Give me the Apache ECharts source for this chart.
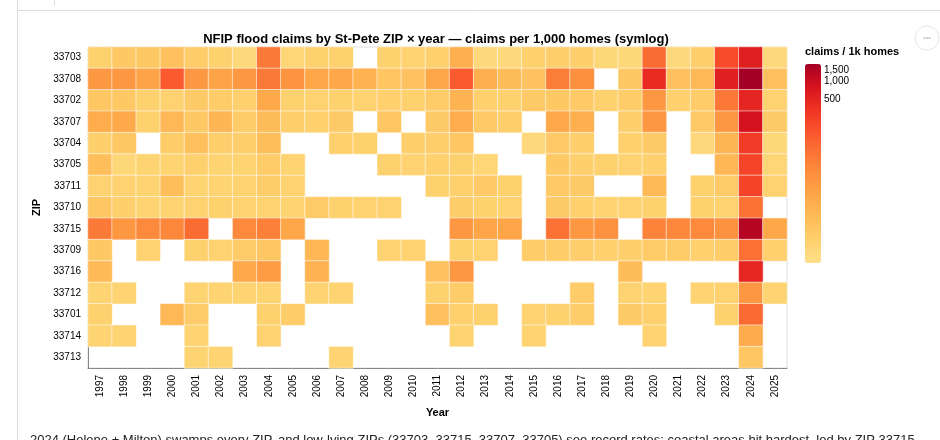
<!DOCTYPE html>
<html>
<head>
<meta charset="utf-8">
<script src="https://cdn.jsdelivr.net/npm/echarts@6/dist/echarts.min.js"></script>
<style>
html, body { margin: 0; padding: 0; background: #fff; }
#chart { width: 940px; height: 440px; }
</style>
</head>
<body>
<div id="chart"></div>
<script>
// 年份 / ZIP
const years = ['1997', '1998', '1999', '2000', '2001', '2002', '2003', '2004', '2005', '2006',
  '2007', '2008', '2009', '2010', '2011', '2012', '2013', '2014', '2015', '2016',
  '2017', '2018', '2019', '2020', '2021', '2022', '2023', '2024', '2025'];
const zips = ['33703', '33708', '33702', '33707', '33704', '33705', '33711', '33710',
  '33715', '33709', '33716', '33712', '33701', '33714', '33713'];

// claims per 1,000 homes, 1997 -> 2025 (null = no claims)
const z33703 = [1.3, 2.4, 2.4, 3.5, 1.8, 1.3, 0.5, 55, 0.8, 1.3, 1.3, null, 1.3, 1.2, 1.4, 8, 0.6, 0.5, 1.4, 1.6, 1.5, 0.7, 0.7, 80, 0.6, 1.5, 190, 600, 0.6];
const z33708 = [21, 22, 14, 128, 21, 14, 21, 55, 24, 12, 12, 7.5, 2.8, 3.2, 12, 128, 8, 4.4, 3.2, 50, 28, null, 2.4, 440, 3.6, 5.5, 590, 1980, 3.6];
const z33702 = [2.5, 2.4, 1.3, 1.2, 2.2, 1.8, 1.4, 11, 1.3, 1.2, 1.3, 1.2, 1.4, 1.3, 2.0, 7, 1.4, 1.3, 2.2, 2.4, 2.3, 1.3, 1.8, 22, 1.4, 1.9, 58, 510, 1.2];
const z33707 = [9.5, 11, 1.3, 5.5, 2.4, 6.5, 1.8, 4.5, 1.5, 1.4, 2.2, null, 2.5, null, 2.2, 9.6, 2.3, 1.5, null, 11.5, 8, null, 1.5, 21, null, 2.3, 22, 860, 2.2];
const z33704 = [1.5, 2.4, null, 1.8, 3.8, 1.6, 1.6, 4.2, null, null, 1.4, 1.3, null, 1.5, 1.6, 2.5, null, null, 0.6, 2.3, 1.5, null, 1.4, 2.2, null, 0.6, 6.5, 280, 0.7];
const z33705 = [4.2, 0.7, 1.0, 1.1, 1.4, 1.0, 1.1, 1.9, 1.1, null, null, null, 1.3, 1.2, 1.4, 1.3, 0.8, null, null, 2.4, 1.5, 1.3, 1.2, 1.4, null, null, 6, 220, 0.8];
const z33711 = [1.2, 1.2, 1.1, 4.2, 1.0, 1.1, 1.2, 1.7, 1.2, null, null, null, null, null, 1.3, 1.4, 2.3, 1.3, null, 2.3, 2.1, null, null, 5, null, 1.3, 2.0, 230, 1.2];
const z33710 = [2.5, 1.5, 1.0, 1.0, 1.2, 1.3, 1.2, 1.2, 1.1, 2.0, 1.3, 1.2, 1.2, null, null, 1.7, 1.3, 1.2, null, 2.2, 1.4, 1.1, 1.2, 1.3, null, 1.3, 1.2, 68, null];
const z33715 = [55, 22, 35, 36, 80, null, 34, 45, 12, null, null, null, null, null, null, 22, 13, 13, null, 68, 22, 25, null, 42, 36, 35, 25, 1500, 12];
const z33709 = [2.4, null, 1.2, null, 1.3, 1.2, 2.0, 2.6, null, 6, null, null, 1.2, 1.2, null, 1.3, 1.2, null, 1.9, 1.9, 1.6, 1.4, 1.5, 2.0, 2.0, 1.4, 1.9, 72, 1.4];
const z33716 = [5, null, null, null, null, null, 11, 18, null, 7.5, null, null, null, null, 3.2, 22, null, null, null, null, null, null, 4.4, null, null, null, null, 480, null];
const z33712 = [1.1, 1.0, null, null, 1.1, 1.0, 1.1, 1.1, null, 1.0, 1.0, null, null, null, 1.3, 1.8, null, null, null, null, 1.8, null, 1.2, 1.1, null, 1.0, 1.2, 22, 1.0];
const z33701 = [1.3, null, null, 5.5, 2.0, null, null, 1.3, 1.8, null, null, null, null, null, 3.8, 1.4, 1.3, null, 1.2, 1.3, 1.7, null, 2.2, 1.4, null, null, 1.3, 85, null];
const z33714 = [1.1, 1.1, null, null, 1.1, null, null, 1.2, null, null, null, null, null, null, null, 1.1, null, null, 1.0, null, null, null, null, 1.0, null, null, null, 10, null];
const z33713 = [null, null, null, null, 1.0, 1.0, null, null, null, null, 1.0, null, null, null, null, null, null, null, null, null, null, null, null, null, null, null, null, 2.5, null];

const rows = [z33703, z33708, z33702, z33707, z33704, z33705, z33711, z33710,
  z33715, z33709, z33716, z33712, z33701, z33714, z33713];

const legendTicks = [500, 1000, 1500];
const colors = ['#fee087', '#fed16f', '#febd59', '#fea849', '#fd903e', '#fc7335',
  '#f9522b', '#ee3123', '#d5121e', '#a50026'];

// symlog (constant 1)
const symlog = v => Math.log1p(v);

let data = [];
let maxVal = 0;
rows.forEach((row, yi) => {
  row.forEach((v, xi) => {
    if (v == null) return;
    data.push([xi, yi, symlog(v), v]);
    if (v > maxVal) maxVal = v;
  });
});
const symMax = symlog(maxVal);

const font = 'Liberation Sans, Arial, Helvetica, sans-serif';
const gradTop = 64, gradH = 199;

let legendLabels = legendTicks.map(t => ({
  type: 'text',
  left: 824,
  top: gradTop + gradH * (1 - symlog(t) / symMax) - 6,
  style: { text: t.toLocaleString('en-US'), font: '10px ' + font, fill: '#000' }
}));

let myChart = echarts.init(document.getElementById('chart'));
myChart.setOption({
  animation: false,
  title: {
    text: 'NFIP flood claims by St-Pete ZIP × year — claims per 1,000 homes (symlog)',
    left: 431,
    textAlign: 'center',
    top: 28,
    textStyle: { fontFamily: font, fontSize: 13, fontWeight: 'bold', color: '#000' }
  },
  grid: {
    left: 88, top: 47, width: 699, height: 321,
    show: true, borderColor: '#ddd', borderWidth: 1
  },
  xAxis: {
    type: 'category',
    data: years,
    name: 'Year',
    nameLocation: 'middle',
    nameGap: 39,
    nameTextStyle: { fontFamily: font, fontSize: 11, fontWeight: 'bold', color: '#000' },
    splitArea: { show: false },
    axisLine: { lineStyle: { color: '#888' } },
    axisTick: { alignWithLabel: true, length: 5, lineStyle: { color: '#888' } },
    axisLabel: { rotate: 90, fontFamily: font, fontSize: 10, color: '#000', margin: 7, interval: 0 }
  },
  yAxis: {
    type: 'category',
    data: zips,
    inverse: true,
    name: 'ZIP',
    nameLocation: 'middle',
    nameGap: 44,
    nameRotate: 90,
    nameTextStyle: { fontFamily: font, fontSize: 11, fontWeight: 'bold', color: '#000' },
    axisLine: { lineStyle: { color: '#888' } },
    axisTick: { alignWithLabel: true, length: 5, lineStyle: { color: '#888' } },
    axisLabel: { fontFamily: font, fontSize: 10, color: '#000', margin: 7, interval: 0 }
  },
  visualMap: {
    type: 'continuous',
    min: 0,
    max: symMax,
    dimension: 2,
    calculable: false,
    hoverLink: false,
    orient: 'vertical',
    left: 805,
    top: gradTop,
    padding: 0,
    itemWidth: 16,
    itemHeight: gradH,
    inRange: { color: colors }
  },
  series: [{
    type: 'heatmap',
    data: data,
    itemStyle: { borderColor: 'rgba(255,255,255,0.55)', borderWidth: 1 },
    emphasis: { disabled: true }
  }],
  graphic: [
    // notebook frame
    { type: 'line', shape: { x1: 17.5, y1: 0, x2: 17.5, y2: 440 }, style: { stroke: '#dcdcdc', lineWidth: 1 } },
    { type: 'line', shape: { x1: 17, y1: 10.5, x2: 940, y2: 10.5 }, style: { stroke: '#dcdcdc', lineWidth: 1 } },
    { type: 'line', shape: { x1: 54.5, y1: 0, x2: 54.5, y2: 6 }, style: { stroke: '#dcdcdc', lineWidth: 1 } },
    { type: 'circle', shape: { cx: 927, cy: 38, r: 12 }, style: { fill: '#fff', stroke: '#e6e6e6', lineWidth: 1 } },
    { type: 'text', x: 927, y: 38, style: { text: '•••', font: '7px ' + font, fill: '#c4c4c4', align: 'center', verticalAlign: 'middle' } },
    // legend title
    { type: 'text', left: 805, top: 46, style: { text: 'claims / 1k homes', font: 'bold 11px ' + font, fill: '#000' } },
    ...legendLabels,
    // cut-off note below the chart
    { type: 'text', left: 30, top: 434,
      style: { text: '2024 (Helene + Milton) swamps every ZIP, and low-lying ZIPs (33703, 33715, 33707, 33705) see record rates; coastal areas hit hardest, led by ZIP 33715',
        font: '13px ' + font, fill: '#222' } }
  ]
});
window.addEventListener('resize', function () { myChart.resize(); });
</script>
</body>
</html>
